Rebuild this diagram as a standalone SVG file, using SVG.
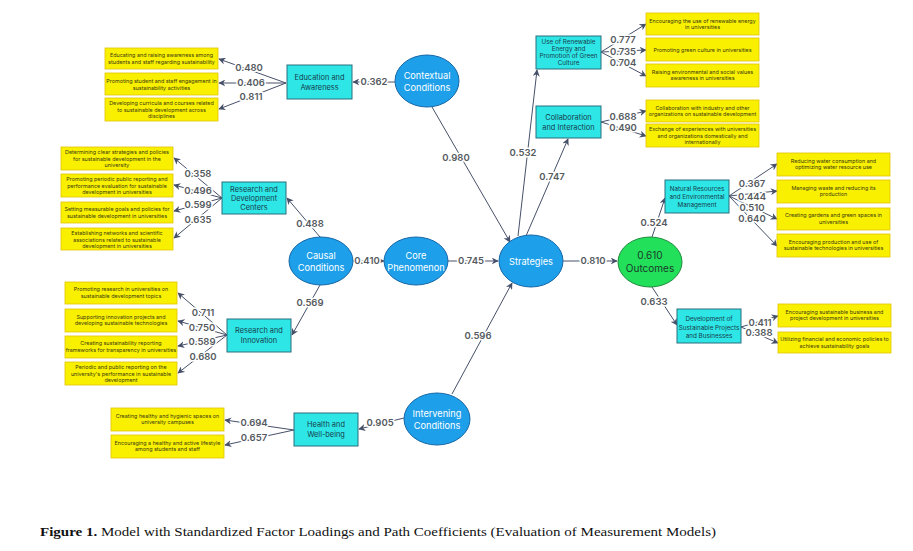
<svg xmlns="http://www.w3.org/2000/svg" width="913" height="551" viewBox="0 0 913 551">
<defs>
<marker id="ah" viewBox="0 0 10 10" refX="9" refY="5" markerWidth="7" markerHeight="7" orient="auto-start-reverse" markerUnits="userSpaceOnUse">
<path d="M0,0 L10,5 L0,10 L3,5 Z" fill="#465069"/>
</marker>
<style>
.ell{fill:#1d9fea;stroke:#1767a6;stroke-width:1}
.out{fill:#22e05a;stroke:#1d8a3c;stroke-width:1}
.et{font-family:Inter,"Liberation Sans",sans-serif;font-size:9.2px;fill:#ffffff;text-anchor:middle}
.ot{font-family:Inter,"Liberation Sans",sans-serif;font-size:10px;fill:#1a3a2a;text-anchor:middle}
.box{fill:#2ee6e6;stroke:#2b6f7f;stroke-width:1}
.bt{font-family:Inter,"Liberation Sans",sans-serif;font-size:7.4px;fill:#163c4c;text-anchor:middle}
.bs{font-size:6.3px}
.yb{fill:#f9f000;stroke:#e0c200;stroke-width:0.8}
.yt{font-family:Inter,"Liberation Sans",sans-serif;font-size:5.4px;fill:#3a3a10;text-anchor:middle}
.ln{stroke:#465069;stroke-width:1;fill:none;marker-end:url(#ah)}
.lb{font-family:Inter,"Liberation Sans",sans-serif;font-size:9.5px;font-weight:600;fill:#555a60;text-anchor:middle;stroke:#ffffff;stroke-width:3;paint-order:stroke;stroke-linejoin:round}
.cap{font-family:"Liberation Serif",serif;font-size:13px;fill:#111}
</style>
</defs>
<rect width="913" height="551" fill="#ffffff"/>

<g id="connectors">
<line class="ln" x1="395" y1="82" x2="353" y2="82"/>
<line class="ln" x1="432" y1="107" x2="510" y2="242"/>
<line class="ln" x1="320" y1="237" x2="287" y2="198"/>
<line class="ln" x1="320" y1="285" x2="292" y2="335"/>
<line class="ln" x1="353" y1="261" x2="384" y2="261"/>
<line class="ln" x1="448" y1="261" x2="498" y2="261"/>
<line class="ln" x1="563" y1="261" x2="617" y2="261"/>
<line class="ln" x1="452" y1="394" x2="512" y2="283"/>
<line class="ln" x1="404" y1="418" x2="359" y2="429"/>
<line class="ln" x1="518" y1="236" x2="537" y2="70"/>
<line class="ln" x1="526" y1="236" x2="568" y2="139"/>
<line class="ln" x1="652" y1="237" x2="665" y2="198"/>
<line class="ln" x1="652" y1="287" x2="677" y2="325"/>

<line class="ln" x1="286" y1="83" x2="219" y2="59"/>
<line class="ln" x1="286" y1="83" x2="219" y2="83"/>
<line class="ln" x1="286" y1="83" x2="219" y2="109"/>

<line class="ln" x1="222" y1="198" x2="174" y2="158"/>
<line class="ln" x1="222" y1="198" x2="174" y2="185"/>
<line class="ln" x1="222" y1="198" x2="174" y2="211"/>
<line class="ln" x1="222" y1="198" x2="174" y2="238"/>

<line class="ln" x1="227" y1="335" x2="178" y2="293"/>
<line class="ln" x1="227" y1="335" x2="178" y2="321"/>
<line class="ln" x1="227" y1="335" x2="178" y2="346"/>
<line class="ln" x1="227" y1="335" x2="178" y2="373"/>

<line class="ln" x1="294" y1="430" x2="225" y2="420"/>
<line class="ln" x1="294" y1="430" x2="225" y2="445"/>

<line class="ln" x1="601" y1="52" x2="646" y2="24"/>
<line class="ln" x1="601" y1="52" x2="646" y2="50"/>
<line class="ln" x1="601" y1="52" x2="646" y2="76"/>

<line class="ln" x1="601" y1="122" x2="646" y2="111"/>
<line class="ln" x1="601" y1="122" x2="646" y2="136"/>

<line class="ln" x1="729" y1="196" x2="777" y2="164"/>
<line class="ln" x1="729" y1="196" x2="777" y2="191"/>
<line class="ln" x1="729" y1="196" x2="777" y2="219"/>
<line class="ln" x1="729" y1="196" x2="777" y2="246"/>

<line class="ln" x1="741" y1="327" x2="778" y2="316"/>
<line class="ln" x1="741" y1="327" x2="778" y2="343"/>

<text class="lb" x="374" y="85">0.362</text>
<text class="lb" x="456" y="161">0.980</text>
<text class="lb" x="310" y="227">0.488</text>
<text class="lb" x="310" y="306">0.569</text>
<text class="lb" x="367" y="264">0.410</text>
<text class="lb" x="471" y="264">0.745</text>
<text class="lb" x="593" y="264">0.810</text>
<text class="lb" x="478" y="339">0.596</text>
<text class="lb" x="380" y="426">0.905</text>
<text class="lb" x="523" y="156">0.532</text>
<text class="lb" x="552" y="180">0.747</text>
<text class="lb" x="654" y="226">0.524</text>
<text class="lb" x="654" y="305">0.633</text>

<text class="lb" x="249" y="71">0.480</text>
<text class="lb" x="251" y="86">0.406</text>
<text class="lb" x="251" y="100">0.811</text>

<text class="lb" x="198" y="177">0.358</text>
<text class="lb" x="198" y="194">0.496</text>
<text class="lb" x="198" y="208">0.599</text>
<text class="lb" x="198" y="223">0.635</text>

<text class="lb" x="203" y="316">0.711</text>
<text class="lb" x="202" y="331">0.750</text>
<text class="lb" x="202" y="345">0.589</text>
<text class="lb" x="203" y="360">0.680</text>

<text class="lb" x="254" y="426">0.694</text>
<text class="lb" x="254" y="441">0.657</text>

<text class="lb" x="623" y="43">0.777</text>
<text class="lb" x="623" y="55">0.735</text>
<text class="lb" x="623" y="66">0.704</text>

<text class="lb" x="623" y="120">0.688</text>
<text class="lb" x="623" y="131">0.490</text>

<text class="lb" x="752" y="187">0.367</text>
<text class="lb" x="752" y="200">0.444</text>
<text class="lb" x="752" y="211">0.510</text>
<text class="lb" x="752" y="222">0.640</text>

<text class="lb" x="760" y="326">0.411</text>
<text class="lb" x="759" y="336">0.388</text>
</g>

<g id="contextual"><ellipse class="ell" cx="427" cy="81" rx="32" ry="26"/><text class="et" x="427" y="79">Contextual</text><text class="et" x="427" y="91">Conditions</text></g>
<g id="causal"><ellipse class="ell" cx="321" cy="261" rx="32" ry="24"/><text class="et" x="321" y="259">Causal</text><text class="et" x="321" y="271">Conditions</text></g>
<g id="core"><ellipse class="ell" cx="416" cy="261" rx="32" ry="24"/><text class="et" x="416" y="259">Core</text><text class="et" x="416" y="271">Phenomenon</text></g>
<g id="strategies"><ellipse class="ell" cx="531" cy="261" rx="32" ry="26"/><text class="et" x="531" y="265">Strategies</text></g>
<g id="outcomes"><ellipse class="out" cx="650" cy="262" rx="32" ry="25"/><text class="ot" x="650" y="259">0.610</text><text class="ot" x="650" y="272">Outcomes</text></g>
<g id="intervening"><ellipse class="ell" cx="437" cy="419" rx="33" ry="26"/><text class="et" x="437" y="417">Intervening</text><text class="et" x="437" y="429">Conditions</text></g>

<g id="education"><rect class="box" x="287" y="65" width="65" height="34"/><text class="bt" x="319.5" y="80">Education and</text><text class="bt" x="319.5" y="90">Awareness</text></g>
<g id="rdcenters"><rect class="box" x="222" y="182" width="64" height="32"/><text class="bt" x="254" y="192">Research and</text><text class="bt" x="254" y="201">Development</text><text class="bt" x="254" y="210">Centers</text></g>
<g id="rinnovation"><rect class="box" x="227" y="319" width="64" height="33"/><text class="bt" x="259" y="333">Research and</text><text class="bt" x="259" y="343">Innovation</text></g>
<g id="health"><rect class="box" x="294" y="413" width="64" height="33"/><text class="bt" x="326" y="427">Health and</text><text class="bt" x="326" y="437">Well-being</text></g>
<g id="renewable"><rect class="box" x="536" y="36" width="65" height="33"/><text class="bt bs" x="568.5" y="44">Use of Renewable</text><text class="bt bs" x="568.5" y="51">Energy and</text><text class="bt bs" x="568.5" y="58">Promotion of Green</text><text class="bt bs" x="568.5" y="65">Culture</text></g>
<g id="collaboration"><rect class="box" x="536" y="106" width="65" height="32"/><text class="bt" x="568.5" y="120">Collaboration</text><text class="bt" x="568.5" y="130">and Interaction</text></g>
<g id="natural"><rect class="box" x="665" y="180" width="64" height="33"/><text class="bt bs" x="697" y="191">Natural Resources</text><text class="bt bs" x="697" y="199">and Environmental</text><text class="bt bs" x="697" y="207">Management</text></g>
<g id="development"><rect class="box" x="677" y="309" width="64" height="34"/><text class="bt bs" x="709" y="321">Development of</text><text class="bt bs" x="709" y="329.5">Sustainable Projects</text><text class="bt bs" x="709" y="338">and Businesses</text></g>

<g id="edu1"><rect class="yb" x="105" y="48" width="113" height="21"/><text class="yt" x="161.5" y="57">Educating and raising awareness among</text><text class="yt" x="161.5" y="64">students and staff regarding sustainability</text></g>
<g id="edu2"><rect class="yb" x="105" y="73" width="113" height="22"/><text class="yt" x="161.5" y="83">Promoting student and staff engagement in</text><text class="yt" x="161.5" y="90">sustainability activities</text></g>
<g id="edu3"><rect class="yb" x="105" y="98" width="113" height="23"/><text class="yt" x="161.5" y="105">Developing curricula and courses related</text><text class="yt" x="161.5" y="111.5">to sustainable development across</text><text class="yt" x="161.5" y="118">disciplines</text></g>

<g id="rd1"><rect class="yb" x="61" y="147" width="112" height="23"/><text class="yt" x="117" y="154">Determining clear strategies and policies</text><text class="yt" x="117" y="160.5">for sustainable development in the</text><text class="yt" x="117" y="167">university</text></g>
<g id="rd2"><rect class="yb" x="61" y="174" width="112" height="23"/><text class="yt" x="117" y="181">Promoting periodic public reporting and</text><text class="yt" x="117" y="187.5">performance evaluation for sustainable</text><text class="yt" x="117" y="194">development in universities</text></g>
<g id="rd3"><rect class="yb" x="61" y="202" width="112" height="21"/><text class="yt" x="117" y="211">Setting measurable goals and policies for</text><text class="yt" x="117" y="217.5">sustainable development in universities</text></g>
<g id="rd4"><rect class="yb" x="61" y="228" width="112" height="22"/><text class="yt" x="117" y="235">Establishing networks and scientific</text><text class="yt" x="117" y="241.5">associations related to sustainable</text><text class="yt" x="117" y="248">development in universities</text></g>

<g id="ri1"><rect class="yb" x="65" y="282" width="112" height="22"/><text class="yt" x="121" y="291">Promoting research in universities on</text><text class="yt" x="121" y="297.5">sustainable development topics</text></g>
<g id="ri2"><rect class="yb" x="65" y="309" width="112" height="23"/><text class="yt" x="121" y="318.5">Supporting innovation projects and</text><text class="yt" x="121" y="325">developing sustainable technologies</text></g>
<g id="ri3"><rect class="yb" x="65" y="336" width="112" height="22"/><text class="yt" x="121" y="345">Creating sustainability reporting</text><text class="yt" x="121" y="351.5">frameworks for transparency in universities</text></g>
<g id="ri4"><rect class="yb" x="65" y="362" width="112" height="23"/><text class="yt" x="121" y="369">Periodic and public reporting on the</text><text class="yt" x="121" y="375.5">university's performance in sustainable</text><text class="yt" x="121" y="382">development</text></g>

<g id="h1"><rect class="yb" x="111" y="408" width="113" height="23"/><text class="yt" x="167.5" y="417.5">Creating healthy and hygienic spaces on</text><text class="yt" x="167.5" y="424">university campuses</text></g>
<g id="h2"><rect class="yb" x="111" y="435" width="113" height="23"/><text class="yt" x="167.5" y="444.5">Encouraging a healthy and active lifestyle</text><text class="yt" x="167.5" y="451">among students and staff</text></g>

<g id="re1"><rect class="yb" x="646" y="13" width="113" height="22"/><text class="yt" x="702.5" y="22.5">Encouraging the use of renewable energy</text><text class="yt" x="702.5" y="29">in universities</text></g>
<g id="re2"><rect class="yb" x="646" y="38" width="113" height="23"/><text class="yt" x="702.5" y="51.5">Promoting green culture in universities</text></g>
<g id="re3"><rect class="yb" x="646" y="64" width="113" height="23"/><text class="yt" x="702.5" y="73.5">Raising environmental and social values</text><text class="yt" x="702.5" y="80">awareness in universities</text></g>
<g id="co1"><rect class="yb" x="646" y="100" width="113" height="22"/><text class="yt" x="702.5" y="109.5">Collaboration with industry and other</text><text class="yt" x="702.5" y="116">organizations on sustainable development</text></g>
<g id="co2"><rect class="yb" x="646" y="124" width="113" height="23"/><text class="yt" x="702.5" y="131">Exchange of experiences with universities</text><text class="yt" x="702.5" y="137.5">and organizations domestically and</text><text class="yt" x="702.5" y="144">internationally</text></g>

<g id="nr1"><rect class="yb" x="777" y="153" width="113" height="23"/><text class="yt" x="833.5" y="162.5">Reducing water consumption and</text><text class="yt" x="833.5" y="169">optimizing water resource use</text></g>
<g id="nr2"><rect class="yb" x="777" y="180" width="113" height="23"/><text class="yt" x="833.5" y="189.5">Managing waste and reducing its</text><text class="yt" x="833.5" y="196">production</text></g>
<g id="nr3"><rect class="yb" x="777" y="208" width="113" height="22"/><text class="yt" x="833.5" y="217">Creating gardens and green spaces in</text><text class="yt" x="833.5" y="223.5">universities</text></g>
<g id="nr4"><rect class="yb" x="777" y="234" width="113" height="23"/><text class="yt" x="833.5" y="243.5">Encouraging production and use of</text><text class="yt" x="833.5" y="250">sustainable technologies in universities</text></g>

<g id="dv1"><rect class="yb" x="778" y="304" width="113" height="23"/><text class="yt" x="834.5" y="313.5">Encouraging sustainable business and</text><text class="yt" x="834.5" y="320">project development in universities</text></g>
<g id="dv2"><rect class="yb" x="778" y="332" width="113" height="21"/><text class="yt" x="834.5" y="341">Utilizing financial and economic policies to</text><text class="yt" x="834.5" y="347.5">achieve sustainability goals</text></g>

<text class="cap" x="40" y="536" textLength="676" lengthAdjust="spacingAndGlyphs"><tspan font-weight="bold">Figure 1.</tspan> Model with Standardized Factor Loadings and Path Coefficients (Evaluation of Measurement Models)</text>
</svg>
